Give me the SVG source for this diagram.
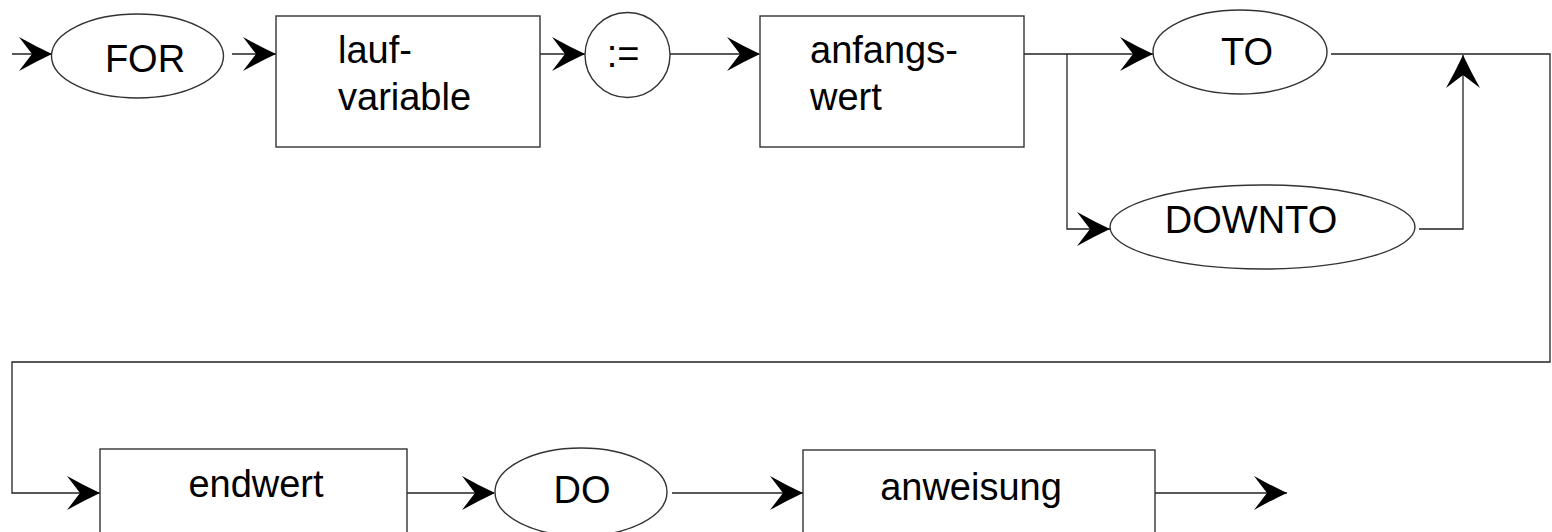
<svg xmlns="http://www.w3.org/2000/svg" xmlns:xlink="http://www.w3.org/1999/xlink" width="1552" height="532" viewBox="0 0 1552 532">
<style>
.shape{fill:#fff;stroke:#333;stroke-width:1.4}
.line{fill:none;stroke:#222;stroke-width:1.3}
.lbl{font-family:"Liberation Sans",Arial,sans-serif;font-size:38px;fill:#000}
.c{text-anchor:middle}
.ah{fill:#000;stroke:none}
</style>
<defs>
<path id="ah" class="ah" d="M0,0 Q-17,-8 -33,-17 L-20,0 L-33,17 Q-17,8 0,0 Z"/>
</defs>
<rect width="1552" height="532" fill="#fff"/>
<g id="connectors">
<path class="line" d="M12,54 H51"/>
<path class="line" d="M232,54 H276"/>
<path class="line" d="M540,54 H585"/>
<path class="line" d="M670,54 H759"/>
<path class="line" d="M1023,54 H1153"/>
<path class="line" d="M1067,54 V229 H1110"/>
<path class="line" d="M1331,54 H1550 V362 H12 V493 H100"/>
<path class="line" d="M1419,229 H1463 V55"/>
<path class="line" d="M407,493 H494"/>
<path class="line" d="M672,493 H803"/>
<path class="line" d="M1155,493 H1287"/>
<use xlink:href="#ah" transform="translate(52,54)"/>
<use xlink:href="#ah" transform="translate(276,54)"/>
<use xlink:href="#ah" transform="translate(585,54)"/>
<use xlink:href="#ah" transform="translate(760,54)"/>
<use xlink:href="#ah" transform="translate(1153,54)"/>
<use xlink:href="#ah" transform="translate(1110,229)"/>
<use xlink:href="#ah" transform="translate(1463,55) rotate(-90)"/>
<use xlink:href="#ah" transform="translate(100,493)"/>
<use xlink:href="#ah" transform="translate(495,493)"/>
<use xlink:href="#ah" transform="translate(803,493)"/>
<use xlink:href="#ah" transform="translate(1287,493)"/>
</g>
<g id="for">
<ellipse class="shape" cx="137.5" cy="56" rx="86" ry="42"/>
<text class="lbl c" x="145" y="72">FOR</text>
</g>
<g id="laufvariable">
<rect class="shape" x="276" y="16" width="264" height="131"/>
<text class="lbl" x="338" y="63">lauf-</text>
<text class="lbl" x="338" y="110">variable</text>
</g>
<g id="assign">
<circle class="shape" cx="627.5" cy="55" r="42.5"/>
<text class="lbl c" x="623" y="67">:=</text>
</g>
<g id="anfangswert">
<rect class="shape" x="760" y="16" width="264" height="131"/>
<text class="lbl" x="810" y="63">anfangs-</text>
<text class="lbl" x="810" y="110">wert</text>
</g>
<g id="to">
<ellipse class="shape" cx="1240" cy="52" rx="87" ry="42"/>
<text class="lbl c" x="1247" y="65">TO</text>
</g>
<g id="downto">
<ellipse class="shape" cx="1262.5" cy="227" rx="152.5" ry="42"/>
<text class="lbl c" x="1251" y="233">DOWNTO</text>
</g>
<g id="endwert">
<rect class="shape" x="100" y="449" width="307" height="131"/>
<text class="lbl c" x="256" y="497">endwert</text>
</g>
<g id="do">
<ellipse class="shape" cx="581" cy="492" rx="86" ry="44"/>
<text class="lbl c" x="582" y="503">DO</text>
</g>
<g id="anweisung">
<rect class="shape" x="803" y="450" width="352" height="131"/>
<text class="lbl c" x="971" y="500">anweisung</text>
</g>
</svg>
